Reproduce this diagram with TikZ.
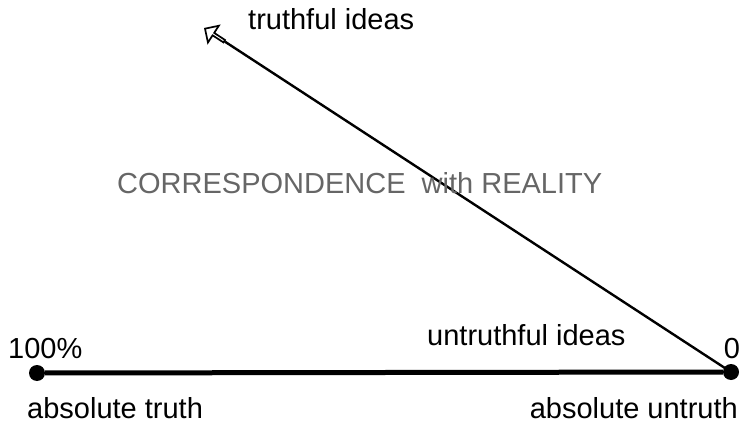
\documentclass[tikz,border=0pt]{standalone}
\usepackage{fontspec}
\setmainfont{Liberation Sans}
\usepackage{xcolor}
\usetikzlibrary{arrows.meta, positioning, shapes.arrows}

\begin{document}
\begin{tikzpicture}[
          x=1pt, y=-1pt,
          font=\fontsize{29}{34}\selectfont,
          dot/.style={circle, fill=black, inner sep=0pt, minimum size=16pt},
          lbl/.style={inner sep=0pt},
          axis/.style={line width=5pt},
          headbox/.style={single arrow, draw, fill=white, line width=1.7pt, inner sep=0pt,
            minimum width=20pt, minimum height=23pt, single arrow head extend=5pt, shape border rotate=0},
          ray/.style={line width=2.4pt}
        ]
          \useasboundingbox (0,0) rectangle (745,428);
          \node[dot] (full) at (37,373) {};
          \node[dot] (zero) at (731,372) {};
          \node[headbox, rotate=146.9, anchor=tip] (head) at (204,28) {};
          \draw[axis] (full) -- (zero);
          \draw[ray] (zero.center) -- (head.tail);
          \node[lbl, anchor=base west] (true) at (248,30) {truthful ideas};
          \node[lbl, anchor=base west, text=black!60] (corr) at (117,193) {CORRESPONDENCE\ \ with REALITY};
          \node[lbl, anchor=base west] (untrue) at (427,345) {untruthful ideas};
          \node[lbl, anchor=base west] (pct) at (8,358) {100\%};
          \node[lbl, anchor=base] (nil) at (732,358) {0};
          \node[lbl, anchor=base west] (abst) at (27,418) {absolute truth};
          \node[lbl, anchor=base east] (absu) at (738,418) {absolute untruth};
        \end{tikzpicture}
\end{document}
